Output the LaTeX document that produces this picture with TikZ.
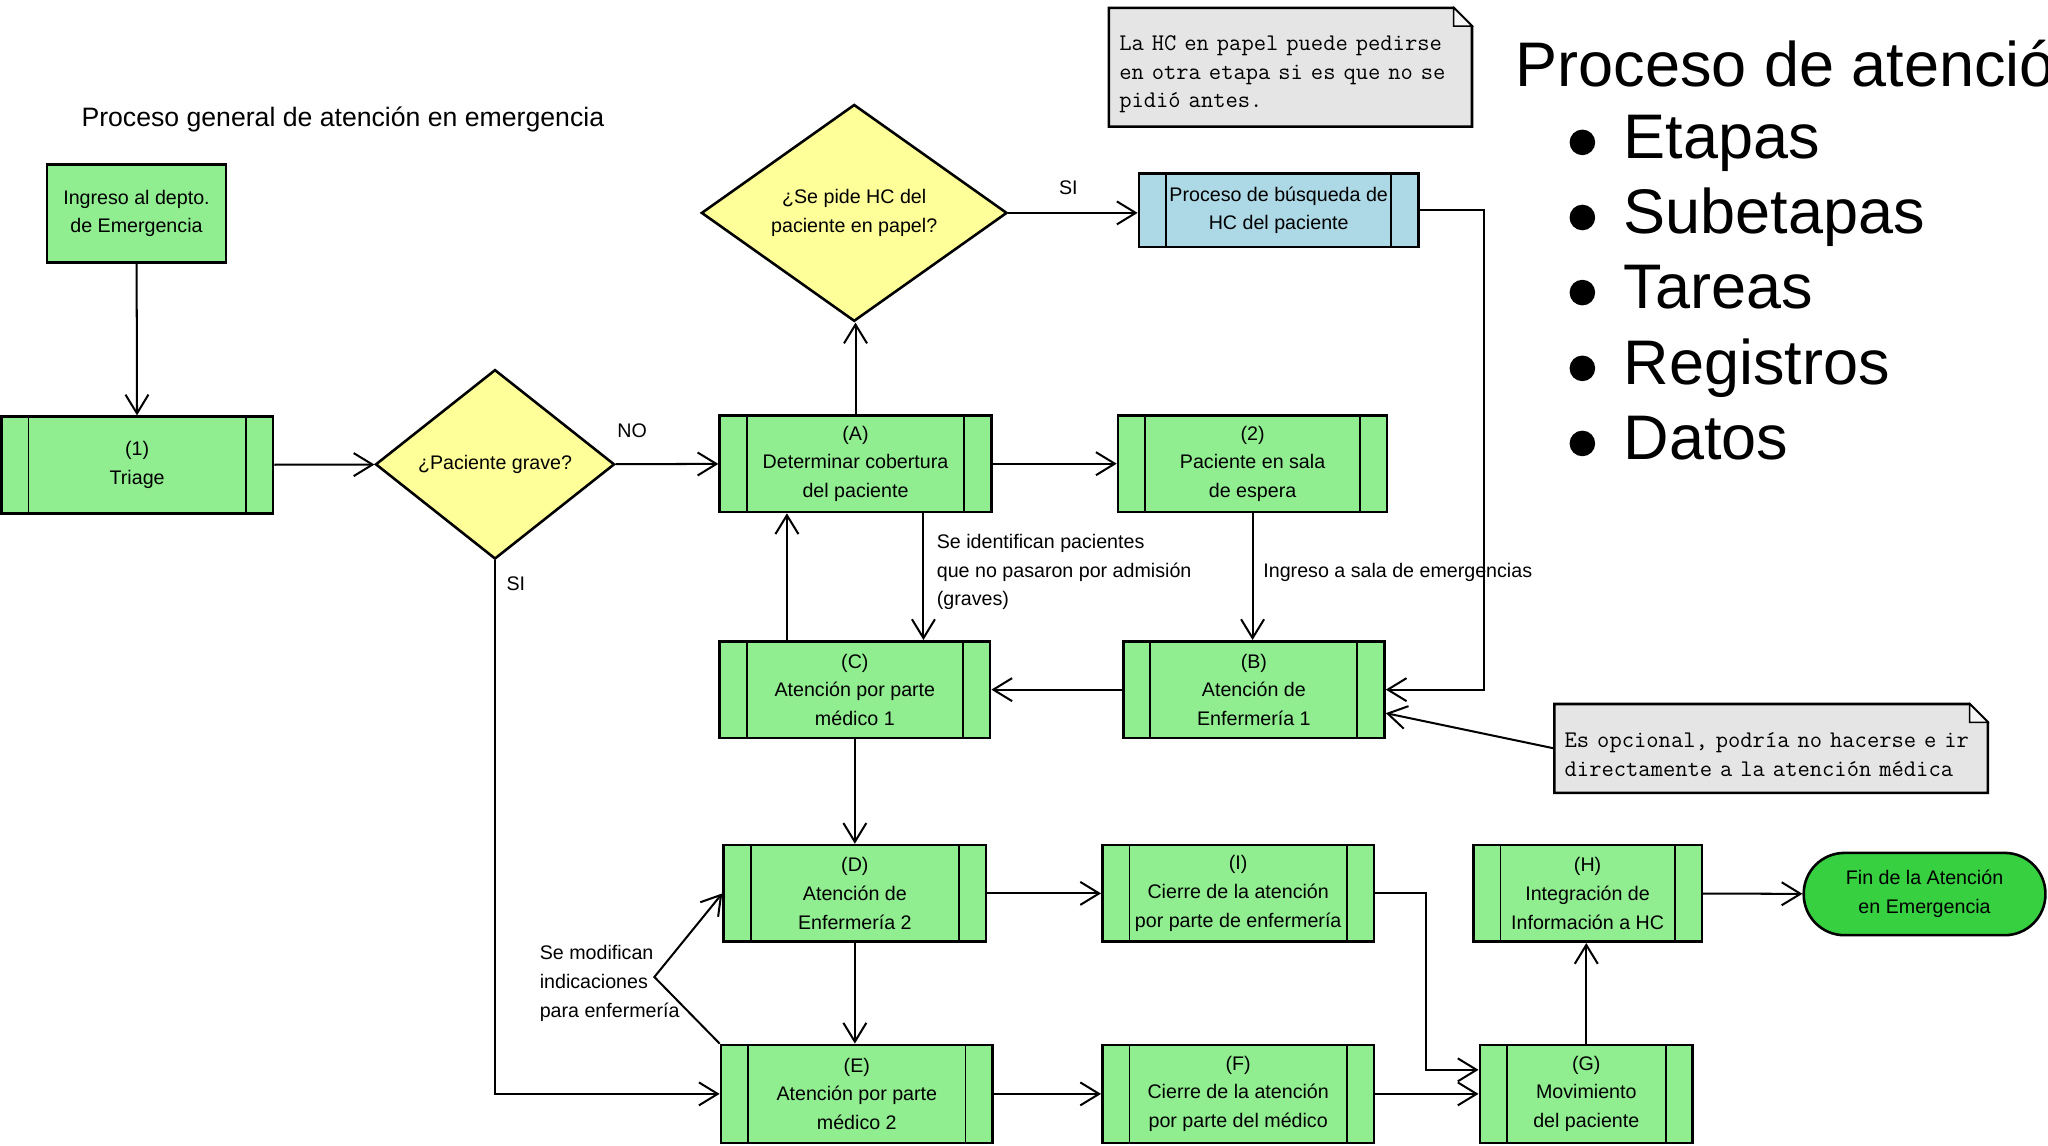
\documentclass[tikz,border=0pt]{standalone}
\usepackage{fontspec}
\setmainfont{Liberation Sans}
\usetikzlibrary{shapes.geometric,arrows.meta,calc}
\definecolor{boxgreen}{RGB}{144,238,144}
\definecolor{dyellow}{RGB}{255,255,153}
\definecolor{hcblue}{RGB}{173,216,230}
\definecolor{notegray}{RGB}{229,229,229}
\definecolor{foldgray}{RGB}{245,245,245}
\definecolor{fingreen}{RGB}{54,208,64}
\tikzset{
  boxfont/.style={font=\fontsize{10.7}{15.6}\selectfont},
  plainbox/.style={draw, line width=1.4pt, fill=boxgreen, boxfont, align=center, inner sep=0pt},
  proc/.style={plainbox,
    path picture={\draw[line width=1pt]
      ([xshift=0.52cm]path picture bounding box.north west) -- ([xshift=0.52cm]path picture bounding box.south west)
      ([xshift=-0.52cm]path picture bounding box.north east) -- ([xshift=-0.52cm]path picture bounding box.south east);}},
  dia/.style={diamond, draw, line width=1.4pt, fill=dyellow, boxfont, align=center, inner sep=0pt, aspect=1.4},
  notebox/.style={font=\ttfamily\fontsize{13}{15.6}\selectfont, align=left, inner sep=0pt},
  noteline/.style={draw, line width=1.4pt, fill=notegray},
  lbl/.style={boxfont, inner sep=0pt, align=left},
  conn/.style={draw, line width=1.1pt, -{Straight Barb[length=3.6mm,width=4.4mm,line width=1.1pt]}},
  bigtext/.style={font=\fontsize{34.3}{40}\selectfont, inner sep=0pt, anchor=base west}
}
\begin{document}
\begin{tikzpicture}[x=0.025cm,y=-0.025cm]
\useasboundingbox[fill=white] (0,0) rectangle (1568,877);

% title
\node[font=\fontsize{14.5}{17}\selectfont, inner sep=0pt, anchor=base] (title) at (262.5,97) {Proceso general de atención en emergencia};

% right text (cut at the right edge, as in the original)
\begin{scope}
\clip (0,0) rectangle (1568,877);
\node[bigtext] (bt0) at (1160,66) {Proceso de atención};
\node[bigtext] (bt1) at (1243,121) {Etapas};
\node[bigtext] (bt2) at (1243,178.5) {Subetapas};
\node[bigtext] (bt3) at (1243,236) {Tareas};
\node[bigtext] (bt4) at (1243,294) {Registros};
\node[bigtext] (bt5) at (1243,351.5) {Datos};
\foreach \yy in {109,166.5,224,282,339.5}
  \fill (1211.5,\yy) circle[radius=0.245cm];
\end{scope}

% nodes
\node[plainbox, minimum width=3.425cm, minimum height=1.875cm] (ingreso) at (104.5,163.5) {Ingreso al depto.\\de Emergencia};
\node[proc, minimum width=5.2cm, minimum height=1.85cm] (triage) at (105,356) {(1)\\Triage};
\node[dia, minimum width=4.575cm, minimum height=3.625cm] (d1) at (379,355.5) {¿Paciente grave?};
\node[dia, minimum width=5.85cm, minimum height=4.15cm] (d2) at (654,163) {¿Se pide HC del\\paciente en papel?};
\node[proc, fill=hcblue, minimum width=5.35cm, minimum height=1.4cm] (blue) at (979,161) {Proceso de búsqueda de\\HC del paciente};
\node[proc, minimum width=5.2cm, minimum height=1.85cm] (A) at (655,355) {(A)\\Determinar cobertura\\del paciente};
\node[proc, minimum width=5.15cm, minimum height=1.85cm] (P2) at (959,355) {(2)\\Paciente en sala\\de espera};
\node[proc, minimum width=5.175cm, minimum height=1.85cm] (C) at (654.5,528) {(C)\\Atención por parte\\médico 1};
\node[proc, minimum width=5.0cm, minimum height=1.85cm] (B) at (960,528) {(B)\\Atención de\\Enfermería 1};
\node[proc, minimum width=5.025cm, minimum height=1.85cm] (D) at (654.5,684) {(D)\\Atención de\\Enfermería 2};
\node[proc, minimum width=5.2cm, minimum height=1.85cm] (I) at (948,684) {(I)\\Cierre de la atención\\por parte de enfermería};
\node[proc, minimum width=5.2cm, minimum height=1.875cm] (E) at (656,837.5) {(E)\\Atención por parte\\médico 2};
\node[proc, minimum width=5.2cm, minimum height=1.875cm] (F) at (948,837.5) {(F)\\Cierre de la atención\\por parte del médico};
\node[proc, minimum width=4.075cm, minimum height=1.875cm] (G) at (1214.5,837.5) {(G)\\Movimiento\\del paciente};
\node[proc, minimum width=4.375cm, minimum height=1.85cm] (H) at (1215.5,684) {(H)\\Integración de\\Información a HC};
\node[draw, line width=1.4pt, fill=fingreen, boxfont, align=center, inner sep=0pt, rounded corners=0.78cm, minimum width=4.625cm, minimum height=1.575cm] (fin) at (1473.5,684.5) {Fin de la Atención\\en Emergencia};

% notes
\path[noteline] (849,6) -- (1113,6) coordinate (n1f) -- (1127,20) coordinate (n1g) -- (1127,97) -- (849,97) -- cycle;
\path[draw, line width=0.8pt, fill=foldgray] (n1f) -- (n1f |- n1g) -- (n1g) -- cycle;
\node[notebox, text width=6.6cm] (n1) at (989,57) {La HC en papel puede pedirse\\en otra etapa si es que no se\\pidió antes.};

\path[noteline] (1190,539) -- (1508,539) coordinate (n2f) -- (1522,553) coordinate (n2g) -- (1522,607) -- (1190,607) -- cycle;
\path[draw, line width=0.8pt, fill=foldgray] (n2f) -- (n2f |- n2g) -- (n2g) -- cycle;
\node[notebox, text width=7.9cm] (n2) at (1356,578) {Es opcional, podría no hacerse e ir\\directamente a la atención médica};
\coordinate (n2w) at (1190,573);

% helper coordinates
\coordinate (kx) at (1136,0);
\coordinate (jx) at (1092,0);
\coordinate (mk) at (501,748);
\coordinate (gin) at ([yshift=0.46cm]G.west);

% connectors
\draw[conn] (ingreso) -- (triage);
\draw[conn] (triage) -- (d1);
\draw[conn] (d1) -- (A);
\draw[conn] (d1.south) |- (E.west);
\draw[conn] (A.north) -- (A.north |- d2.south);
\draw[conn] (d2.east) -- (d2.east -| blue.west);
\draw[conn] (blue.east) -| (kx |- B.east) -- (B.east);
\draw[conn] (A) -- (P2);
\draw[conn] (P2.south) -- (P2.south |- B.north);
\draw[conn] ([xshift=1.3cm]A.south) -- ([xshift=1.3cm]A.south |- C.north);
\draw[conn] ([xshift=-1.3cm]C.north) -- ([xshift=-1.3cm]C.north |- A.south);
\draw[conn] (B) -- (C);
\draw[conn] (n2w) -- ([yshift=-0.45cm]B.east);
\draw[conn] (C) -- (D);
\draw[conn] (D.south) -- (D.south |- E.north);
\draw[conn] (E.north west) -- (mk) -- (D.west);
\draw[conn] (D) -- (I);
\draw[conn] (I.east) -| (jx |- gin) -- (gin);
\draw[conn] (E) -- (F);
\draw[conn] (F) -- (G);
\draw[conn] (G.north) -- (G.north |- H.south);
\draw[conn] (H) -- (fin);

% labels
\node[lbl] (lno) at (484,330) {NO};
\node[lbl] (lsi1) at (395,447) {SI};
\node[lbl] (lsi2) at (818,144) {SI};
\node[lbl, anchor=west] (lident) at (717,438) {Se identifican pacientes\\que no pasaron por admisión\\(graves)};
\node[lbl, anchor=west] (lingreso) at (967,438) {Ingreso a sala de emergencias};
\node[lbl, anchor=west] (lmod) at (413,753) {Se modifican\\indicaciones\\para enfermería};
\end{tikzpicture}
\end{document}
